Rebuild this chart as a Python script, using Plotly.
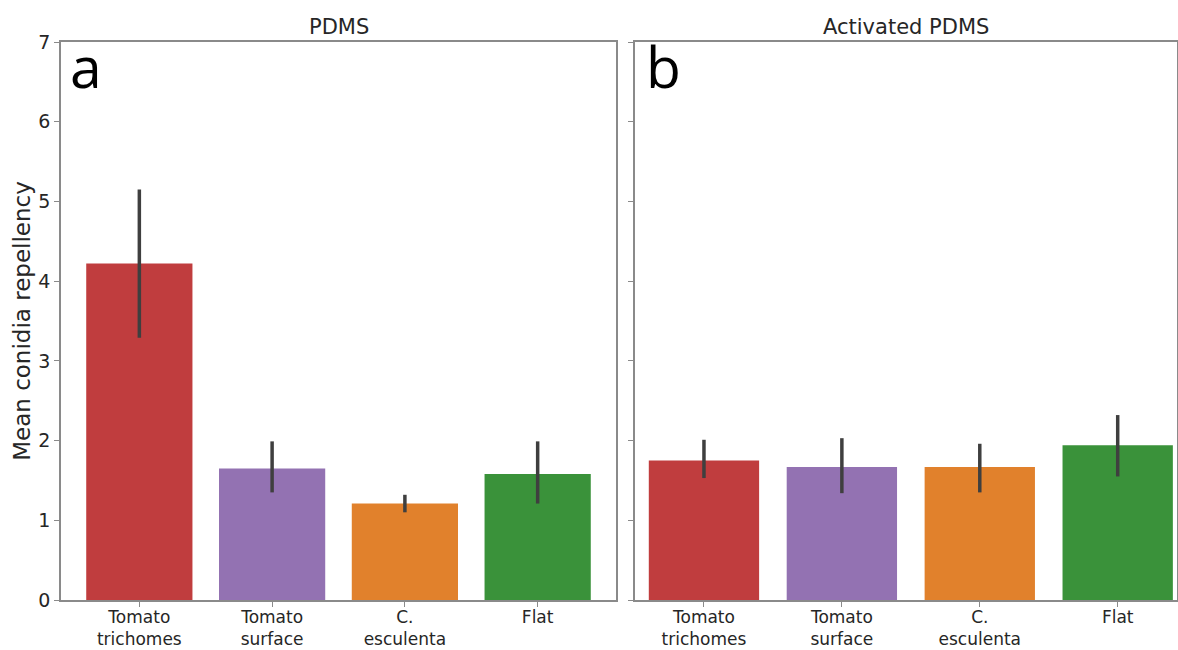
import plotly.graph_objects as go

W, H = 1178, 650

categories = ["Tomato<br>trichomes", "Tomato<br>surface", "C.<br>esculenta", "Flat"]
colors = ["#c03d3e", "#9372b2", "#e1812c", "#3a923a"]

# Panel a: PDMS
pdms_mean = [4.22, 1.65, 1.21, 1.58]
pdms_ci_low = [3.29, 1.35, 1.10, 1.21]
pdms_ci_high = [5.15, 1.99, 1.32, 1.99]

# Panel b: Activated PDMS
act_mean = [1.75, 1.67, 1.67, 1.94]
act_ci_low = [1.53, 1.34, 1.35, 1.55]
act_ci_high = [2.01, 2.03, 1.96, 2.32]

panel_titles = ["PDMS", "Activated PDMS"]
panel_letters = ["a", "b"]
y_ticks = [0, 1, 2, 3, 4, 5, 6, 7]
y_label = "Mean conidia repellency"

FONT = "DejaVu Sans"
TXT = "#262626"
SPINE = "#8a8a8a"
ERR = "#3f3f3f"

fig = go.Figure()


def add_panel(mean, lo, hi, xa, ya):
    fig.add_trace(go.Bar(
        x=categories, y=mean, width=0.8,
        marker=dict(color=colors, line=dict(width=0)),
        error_y=dict(type="data", symmetric=False,
                     array=[h - m for h, m in zip(hi, mean)],
                     arrayminus=[m - l for m, l in zip(mean, lo)],
                     color=ERR, thickness=3.5, width=0),
        xaxis=xa, yaxis=ya, showlegend=False, hoverinfo="skip",
    ))


add_panel(pdms_mean, pdms_ci_low, pdms_ci_high, "x", "y")
add_panel(act_mean, act_ci_low, act_ci_high, "x2", "y2")

y0 = (H - 600) / H
y1 = (H - 42) / H
dA = [61 / W, 616 / W]
dB = [635 / W, 1177 / W]

common_x = dict(type="category", showline=True, mirror=True, linecolor=SPINE, linewidth=1.5,
                ticks="outside", ticklen=5, tickcolor=SPINE, tickwidth=1.3,
                showgrid=False, zeroline=False, ticklabelstandoff=-4,
                tickfont=dict(family=FONT, size=17, color=TXT))
common_y = dict(range=[0, 7], tickvals=y_ticks, showline=True, mirror=True, linecolor=SPINE,
                linewidth=1.5, ticks="outside", ticklen=5, tickcolor=SPINE, tickwidth=1.3,
                showgrid=False, zeroline=False, domain=[y0, y1],
                tickfont=dict(family=FONT, size=19, color=TXT))

fig.update_layout(
    width=W, height=H,
    margin=dict(l=0, r=0, t=0, b=0, autoexpand=False),
    paper_bgcolor="white", plot_bgcolor="white",
    bargap=0.2,
    xaxis=dict(common_x, domain=dA, range=[-0.59, 3.59], anchor="y"),
    xaxis2=dict(common_x, domain=dB, range=[-0.5, 3.43], anchor="y2"),
    yaxis=dict(common_y, anchor="x", ticklabelstandoff=0,
               title=dict(text=y_label, font=dict(family=FONT, size=23, color=TXT), standoff=1)),
    yaxis2=dict(common_y, anchor="x2", matches="y", showticklabels=False),
)

for dom, t in zip([dA, dB], panel_titles):
    fig.add_annotation(text=t, x=(dom[0] + dom[1]) / 2, y=(H - 41) / H,
                       xref="paper", yref="paper", xanchor="center", yanchor="bottom",
                       showarrow=False, font=dict(family=FONT, size=21, color=TXT))

for xpx, letter in zip([68, 644], panel_letters):
    fig.add_annotation(text=letter, x=xpx / W, y=(H - 25) / H, xref="paper", yref="paper",
                       xanchor="left", yanchor="top", showarrow=False,
                       font=dict(family="Open Sans", size=57, color="black"))

fig.write_html("out.html")
